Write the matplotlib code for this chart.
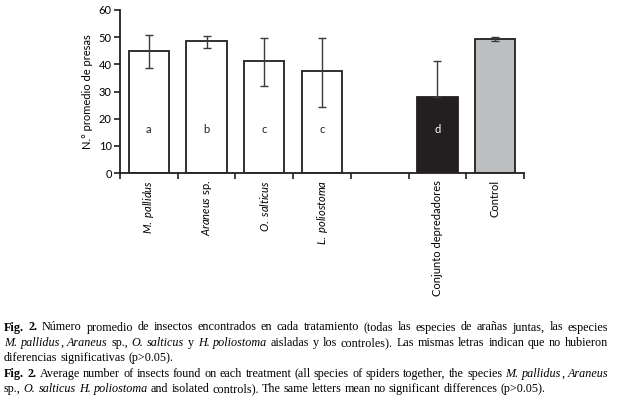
import re
import numpy as np
import matplotlib
matplotlib.use('Agg')
import matplotlib.pyplot as plt

plt.rcParams['font.family'] = 'Lato'
plt.rcParams['mathtext.fontset'] = 'custom'
plt.rcParams['mathtext.rm'] = 'Lato'
plt.rcParams['mathtext.it'] = 'Lato:italic'

# data
cats = [r"$\it{M.\ pallidus}$", r"$\it{Araneus}$ sp.", r"$\it{O.\ salticus}$",
        r"$\it{L.\ poliostoma}$", "", "Conjunto depredadores", "Control"]
means = [45.0, 48.7, 41.2, 37.5, None, 27.9, 49.3]
err_lo = [6.3, 2.8, 9.0, 13.2, None, 0.0, 0.6]
err_hi = [5.9, 1.8, 8.5, 12.3, None, 13.3, 0.6]
letters = ["a", "b", "c", "c", "", "d", ""]
colors = ["white", "white", "white", "white", None, "#231f20", "#bcbec0"]
letter_y = 16

caption = [
    ("[Fig.] [2.] Número promedio de insectos encontrados en cada tratamiento (todas las especies de arañas juntas, las especies", True),
    ("{M.} {pallidus}, {Araneus} sp., {O.} {salticus} y {H.} {poliostoma} aisladas y los controles). Las mismas letras indican que no hubieron", True),
    ("diferencias significativas (p>0.05).", False),
    ("[Fig.] [2.] Average number of insects found on each treatment (all species of spiders together, the species {M.} {pallidus}, {Araneus}", True),
    ("sp., {O.} {salticus} {H.} {poliostoma} and isolated controls). The same letters mean no significant differences (p>0.05).", False),
]

fig = plt.figure(figsize=(6.17, 3.98), dpi=100)
ax = fig.add_axes([120/617, 1-173/398, 404/617, 163/398])

x = np.arange(len(cats))
idx = [i for i in range(len(cats)) if means[i] is not None]
xs = x[idx]
h = [means[i] for i in idx]
ax.bar(xs, h, width=0.7, color=[colors[i] for i in idx], edgecolor='#231f20',
       linewidth=1.3, zorder=2)
ax.errorbar(xs, h, yerr=[[err_lo[i] for i in idx], [err_hi[i] for i in idx]],
            fmt='none', ecolor='#3a3a3a', elinewidth=1.0, capsize=3, capthick=1.0, zorder=3)
for i in idx:
    ax.text(x[i], letter_y, letters[i], ha='center', va='center', fontsize=8,
            color='white' if i == 5 else '#231f20')

ax.set_xlim(-0.5, len(cats) - 0.5)
ax.set_ylim(0, 60)
ax.set_yticks([0, 10, 20, 30, 40, 50, 60])
ax.set_xticks(np.arange(-0.5, len(cats)), [''] * (len(cats) + 1))
ax.set_xticks(x, cats, minor=True, rotation=90, va='top', fontsize=8)
ax.tick_params(axis='x', which='minor', length=0, pad=5)
ax.tick_params(axis='x', which='major', length=4, width=1.2, color='#231f20')
ax.tick_params(axis='y', length=4, width=1.2, color='#231f20', labelsize=8, pad=2)
ax.set_ylabel("N.° promedio de presas", fontsize=8, labelpad=4)
for s in ['top', 'right']:
    ax.spines[s].set_visible(False)
for s in ['left', 'bottom']:
    ax.spines[s].set_linewidth(1.3)
    ax.spines[s].set_color('#231f20')

# justified caption
W, H = 617.0, 398.0
FS = 8.7
r = fig.canvas.get_renderer()
styles = {'n': {}, 'i': {'style': 'italic'}, 'b': {'weight': 'bold'}}


def pieces(word):
    out = []
    for p in re.findall(r'\{[^}]*\}|\[[^\]]*\]|[^{\[]+', word):
        if p[0] == '{':
            out.append((p[1:-1], 'i'))
        elif p[0] == '[':
            out.append((p[1:-1], 'b'))
        else:
            out.append((p, 'n'))
    return out


def width(s, st):
    t = fig.text(0, 0, s, family='Liberation Serif', fontsize=FS, **styles[st])
    w = t.get_window_extent(r).width
    t.remove()
    return w


space = width("x x", 'n') - width("xx", 'n')
left, right = 4.0, 608.0
y0, dy = 330.5, 15.4
for k, (line, just) in enumerate(caption):
    tokens = []
    tw = 0
    for wd in line.split(' '):
        ps = [(s, st, width(s, st)) for s, st in pieces(wd)]
        tokens.append(ps)
        tw += sum(p[2] for p in ps)
    gap = (right - left - tw) / (len(tokens) - 1) if just else space
    gap = max(gap, 0.6 * space)
    xp = left
    yp = 1 - (y0 + k * dy) / H
    for ps in tokens:
        for s, st, w in ps:
            fig.text(xp / W, yp, s, family='Liberation Serif', fontsize=FS,
                     va='baseline', **styles[st])
            xp += w
        xp += gap

fig.savefig('out.png', dpi=100)
